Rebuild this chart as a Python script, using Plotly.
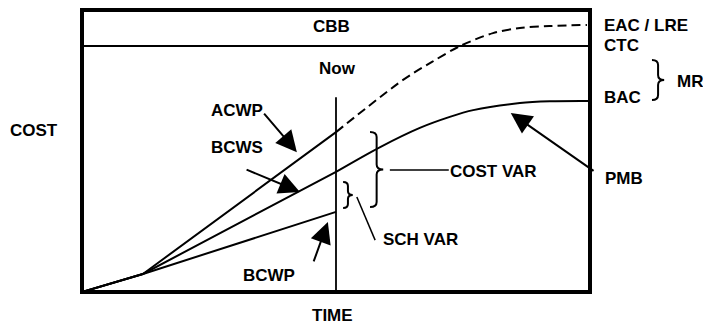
import plotly.graph_objects as go

# ---- data (time 0-100 across the frame, cost 0-100 up the frame) ----
NOW = 50.0
CBB_LEVEL = 87.2
BAC_LEVEL = 67.7
EAC_LEVEL = 94.7
NOW_LINE_TOP = 69.1

# common start shared by every curve, then the three curves to "Now"
start_t = [0.0, 12.0]
start_c = [0.0, 6.4]

acwp_t = start_t + [NOW]
acwp_c = start_c + [56.7]

bcws_t = start_t + [NOW]
bcws_c = start_c + [42.6]

bcwp_t = start_t + [NOW]
bcwp_c = start_c + [28.4]

# estimate of actual cost after "Now" up to EAC
eac_t = [NOW, 63.2, 68.9, 74.4, 80.9, 86.2, 92.0, 99.4]
eac_c = [56.7, 75.2, 81.6, 87.2, 91.8, 93.6, 94.3, EAC_LEVEL]

# performance measurement baseline after "Now" up to BAC
pmb_t = [NOW, 58.7, 66.5, 72.4, 77.0, 86.2, 92.1, 100.0]
pmb_c = [42.6, 51.4, 58.2, 62.1, 64.5, 67.0, 67.6, BAC_LEVEL]

# ---- scales used to keep the braces round ----
PX_X = 508 / 100.0   # px per time unit
PX_Y = 282 / 100.0   # px per cost unit

BLACK = "#000000"
FONT = dict(family="Liberation Sans, Arial, sans-serif", size=17, color=BLACK, weight="bold")


def brace(x0, x1, ytop, ybot, r):
    """SVG path of a right-facing curly brace."""
    xa = (x0 + x1) / 2
    ym = (ytop + ybot) / 2
    return (f"M{x0},{ytop} Q{xa},{ytop} {xa},{ytop - r} "
            f"L{xa},{ym + r} Q{xa},{ym} {x1},{ym} "
            f"Q{xa},{ym} {xa},{ym - r} "
            f"L{xa},{ybot + r} Q{xa},{ybot} {x0},{ybot}")


fig = go.Figure()

line = dict(color=BLACK, width=2)
for t, c in [(acwp_t, acwp_c), (bcws_t, bcws_c), (bcwp_t, bcwp_c)]:
    fig.add_trace(go.Scatter(x=t, y=c, mode="lines", line=line, hoverinfo="skip"))

fig.add_trace(go.Scatter(x=pmb_t, y=pmb_c, mode="lines",
                         line=dict(color=BLACK, width=2, shape="spline", smoothing=0.9),
                         hoverinfo="skip"))
fig.add_trace(go.Scatter(x=eac_t, y=eac_c, mode="lines",
                         line=dict(color=BLACK, width=2, shape="spline", smoothing=0.9,
                                   dash="9px,5px"),
                         hoverinfo="skip"))

# CBB level across the frame and the "Now" marker
fig.add_trace(go.Scatter(x=[0, 100], y=[CBB_LEVEL, CBB_LEVEL], mode="lines",
                         line=dict(color=BLACK, width=2), hoverinfo="skip"))
fig.add_trace(go.Scatter(x=[NOW, NOW], y=[0, NOW_LINE_TOP], mode="lines",
                         line=dict(color=BLACK, width=1.8), hoverinfo="skip"))

shapes = [
    # heavy frame
    dict(type="rect", xref="paper", yref="paper", x0=0, x1=1, y0=0, y1=1,
         line=dict(color=BLACK, width=4)),
    # cost variance brace
    dict(type="path", xref="x", yref="y",
         path=brace(56.7, 59.3, acwp_c[-1], 30.1, 5 / PX_Y),
         line=dict(color=BLACK, width=2)),
    # schedule variance brace
    dict(type="path", xref="x", yref="y",
         path=brace(51.4, 53.3, 39.0, 29.8, 4 / PX_Y),
         line=dict(color=BLACK, width=2)),
    # management reserve brace
    dict(type="path", xref="paper", yref="paper",
         path=brace(1.122, 1.146, 0.823, 0.681, 5 / 282),
         line=dict(color=BLACK, width=2)),
    # leader lines
    dict(type="line", xref="x", yref="y", x0=60.6, x1=72.2, y0=43.3, y1=43.3,
         line=dict(color=BLACK, width=1.5)),
    dict(type="line", xref="x", yref="y", x0=54.1, x1=57.7, y0=33.7, y1=18.4,
         line=dict(color=BLACK, width=1.5)),
]

annotations = []


def label(text, x, y, ref="data", xanchor="center"):
    r = ("x", "y") if ref == "data" else ("paper", "paper")
    annotations.append(dict(text=text, x=x, y=y, xref=r[0], yref=r[1],
                            showarrow=False, xanchor=xanchor, yanchor="middle",
                            borderpad=0, font=FONT))


def arrow(x, y, ax, ay):
    annotations.append(dict(text="", x=x, y=y, ax=ax, ay=ay, xref="x", yref="y",
                            axref="x", ayref="y", showarrow=True, arrowhead=2,
                            arrowsize=2.1, arrowwidth=2, arrowcolor=BLACK))


label("CBB", 49.2, 94.0)
label("Now", 50.2, 79.3)
label("ACWP", 30.5, 64.2)
label("BCWS", 30.5, 51.1)
label("BCWP", 36.8, 5.7)
label("COST VAR", 72.2, 42.9, xanchor="left")
label("SCH VAR", 59.1, 18.6, xanchor="left")
label("PMB", 1.028, 0.402, ref="paper", xanchor="left")
label("EAC / LRE", 1.026, 0.944, ref="paper", xanchor="left")
label("CTC", 1.026, 0.874, ref="paper", xanchor="left")
label("BAC", 1.026, 0.688, ref="paper", xanchor="left")
label("MR", 1.170, 0.748, ref="paper", xanchor="left")
label("COST", -0.0945, 0.574, ref="paper")
label("TIME", 0.494, -0.0816, ref="paper")

arrow(42.3, 49.6, 35.6, 63.8)   # ACWP
arrow(42.9, 35.5, 32.1, 43.6)   # BCWS
arrow(48.4, 24.8, 45.5, 10.3)   # BCWP
arrow(84.4, 63.5, 101.0, 42.6)  # PMB

fig.update_layout(
    width=703, height=325,
    margin=dict(l=82, r=113, t=10, b=33),
    paper_bgcolor="white", plot_bgcolor="white",
    showlegend=False,
    xaxis=dict(range=[0, 100], visible=False, fixedrange=True),
    yaxis=dict(range=[0, 100], visible=False, fixedrange=True),
    shapes=shapes,
    annotations=annotations,
)

fig.write_html("out.html", config={"displayModeBar": False})
